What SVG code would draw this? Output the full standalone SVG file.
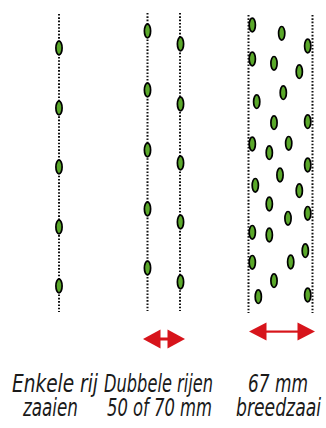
<svg xmlns="http://www.w3.org/2000/svg" width="326" height="428" viewBox="0 0 326 428">
<defs>
<style>
.row{stroke:#111;stroke-width:2;stroke-dasharray:1.6 1.7;fill:none}
.seed{fill:#5aa82a;stroke:#000;stroke-width:1.7}
.arr{fill:#d7141b}
.lbl{font-family:"Liberation Sans Narrow","DejaVu Sans Condensed","Liberation Sans",sans-serif;font-style:italic;font-size:25.5px;fill:#1a1a1a}
</style>
<ellipse id="s" class="seed" cx="0" cy="0" rx="3.1" ry="6.8"/>
</defs>
<rect width="326" height="428" fill="#fff"/>
<g id="connectors">
<line class="row" x1="59" y1="14" x2="59" y2="312"/>
<line class="row" x1="147.5" y1="13" x2="147.5" y2="311"/>
<line class="row" x1="180" y1="13" x2="180" y2="311"/>
<line class="row" x1="248.5" y1="15" x2="248.5" y2="313"/>
<line class="row" x1="312.5" y1="15" x2="312.5" y2="313"/>
</g>
<g id="enkele-rij">
<use href="#s" x="59" y="48"/>
<use href="#s" x="59" y="108"/>
<use href="#s" x="59" y="167"/>
<use href="#s" x="59" y="227"/>
<use href="#s" x="59" y="286"/>
</g>
<g id="dubbele-rijen">
<use href="#s" x="147.5" y="31"/>
<use href="#s" x="147.5" y="90"/>
<use href="#s" x="147.5" y="150"/>
<use href="#s" x="147.5" y="209"/>
<use href="#s" x="147.5" y="268"/>
<use href="#s" x="180.5" y="44"/>
<use href="#s" x="180.5" y="104"/>
<use href="#s" x="180.5" y="163"/>
<use href="#s" x="180.5" y="222"/>
<use href="#s" x="180.5" y="282"/>
</g>
<g id="breedzaai">
<use href="#s" x="252.3" y="25"/>
<use href="#s" x="281.7" y="33.3"/>
<use href="#s" x="307.7" y="46"/>
<use href="#s" x="252.3" y="59"/>
<use href="#s" x="274" y="63.3"/>
<use href="#s" x="299.3" y="71.7"/>
<use href="#s" x="283.3" y="92.7"/>
<use href="#s" x="256.7" y="101.7"/>
<use href="#s" x="274" y="122.7"/>
<use href="#s" x="307.7" y="121.7"/>
<use href="#s" x="252.3" y="144"/>
<use href="#s" x="269.3" y="152.7"/>
<use href="#s" x="288.7" y="143.3"/>
<use href="#s" x="307.7" y="165"/>
<use href="#s" x="280" y="175"/>
<use href="#s" x="255.3" y="185.3"/>
<use href="#s" x="299.3" y="190.7"/>
<use href="#s" x="269.3" y="204"/>
<use href="#s" x="288" y="218.3"/>
<use href="#s" x="307.7" y="213.3"/>
<use href="#s" x="252.3" y="232.3"/>
<use href="#s" x="269.3" y="235"/>
<use href="#s" x="305.3" y="250.7"/>
<use href="#s" x="252.3" y="262.3"/>
<use href="#s" x="290.7" y="262"/>
<use href="#s" x="274" y="280.7"/>
<use href="#s" x="307.7" y="295"/>
<use href="#s" x="258.3" y="296.7"/>
</g>
<g id="arrow-dubbel">
<rect class="arr" x="160" y="337.5" width="8" height="3"/>
<polygon class="arr" points="143,339 160.5,329.5 160.5,348.5"/>
<polygon class="arr" points="185,339 167.5,329.5 167.5,348.5"/>
</g>
<g id="arrow-breed">
<rect class="arr" x="265" y="330.5" width="34" height="2.2"/>
<polygon class="arr" points="249,331.5 266.5,322.5 266.5,340.5"/>
<polygon class="arr" points="315,331.5 297.5,322.5 297.5,340.5"/>
</g>
<g id="labels">
<text class="lbl" x="12" y="392" textLength="86" lengthAdjust="spacingAndGlyphs">Enkele rij</text>
<text class="lbl" x="23" y="416" textLength="55" lengthAdjust="spacingAndGlyphs">zaaien</text>
<text class="lbl" x="104" y="392" textLength="109" lengthAdjust="spacingAndGlyphs">Dubbele rijen</text>
<text class="lbl" x="107" y="416" textLength="105" lengthAdjust="spacingAndGlyphs">50 of 70 mm</text>
<text class="lbl" x="248" y="392" textLength="60" lengthAdjust="spacingAndGlyphs">67 mm</text>
<text class="lbl" x="236" y="416" textLength="85" lengthAdjust="spacingAndGlyphs">breedzaai</text>
</g>
</svg>
